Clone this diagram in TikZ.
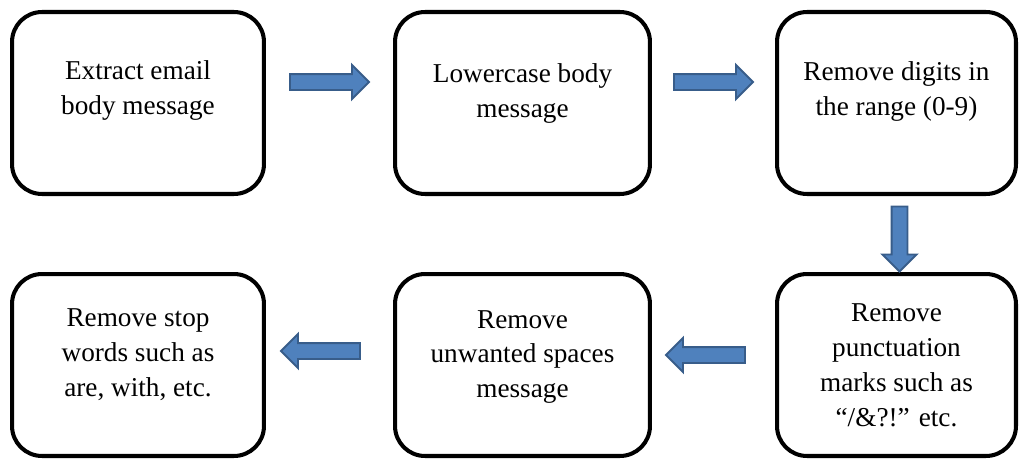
\documentclass[tikz,border=0pt]{standalone}
\usepackage{fontspec}
\setmainfont{Liberation Serif}
\usepackage{tikz}
\usetikzlibrary{shapes, shapes.arrows, arrows.meta, positioning, calc}
\definecolor{arrowblue}{RGB}{79, 129, 189}
\definecolor{arrowline}{RGB}{56, 93, 138}

\begin{document}
\begin{tikzpicture}[x=0.02cm, y=-0.02cm,
  stepbox/.style={draw, line width=2.3pt, rounded corners=0.6cm, minimum height=3.64cm, inner sep=0pt},
  lbl/.style={font=\fontsize{15.5}{19.9}\selectfont, align=center, inner sep=0pt},
  barrow/.style={single arrow, draw=arrowline, fill=arrowblue, line width=1.1pt,
                 minimum height=1.58cm, inner xsep=0pt, inner ysep=0.14cm,
                 single arrow head extend=0.18cm},
]
\useasboundingbox (0,0) rectangle (1019,460);

% Top row
\node[stepbox, minimum width=5.04cm] (b1) at (138, 103) {};
\node[stepbox, minimum width=5.1cm] (b2) at (522.5, 103) {};
\node[stepbox, minimum width=4.78cm] (b3) at (896.5, 103) {};

% Bottom row
\node[stepbox, minimum width=4.78cm] (b4) at (896.5, 365) {};
\node[stepbox, minimum width=5.1cm] (b5) at (522.5, 365) {};
\node[stepbox, minimum width=5.04cm] (b6) at (138, 365) {};

% Texts
\node[lbl] (t1) at ([yshift=0.25cm]b1.center) {Extract email\\body message};
\node[lbl] (t2) at ([yshift=0.19cm]b2.center) {Lowercase body\\message};
\node[lbl] (t3) at ([yshift=0.23cm]b3.center) {Remove digits in\\the range (0-9)};
\node[lbl] (t4) at (b4.center) {Remove\\punctuation\\marks such as\\“/\&?!” etc.};
\node[lbl] (t5) at ([yshift=0.16cm]b5.center) {Remove\\unwanted spaces\\message};
\node[lbl] (t6) at ([yshift=0.2cm]b6.center) {Remove stop\\words such as\\are, with, etc.};

% Block arrows between the steps
\node[barrow] (a12) at ($(b1.east)!0.5!(b2.west)+(-4,-21)$) {};
\node[barrow] (a23) at ($(b2.east)!0.5!(b3.west)+(-4,-21)$) {};
\node[barrow, shape border rotate=270, minimum height=1.3cm, inner xsep=0.14cm, inner ysep=0pt]
     (a34) at ($(b3.south)!0.5!(b4.north)+(3,1)$) {};
\node[barrow, shape border rotate=180] (a45) at ($(b4.west)!0.5!(b5.east)+(-4,-10)$) {};
\node[barrow, shape border rotate=180] (a56) at ($(b5.west)!0.5!(b6.east)+(-5,-14)$) {};
\end{tikzpicture}
\end{document}
